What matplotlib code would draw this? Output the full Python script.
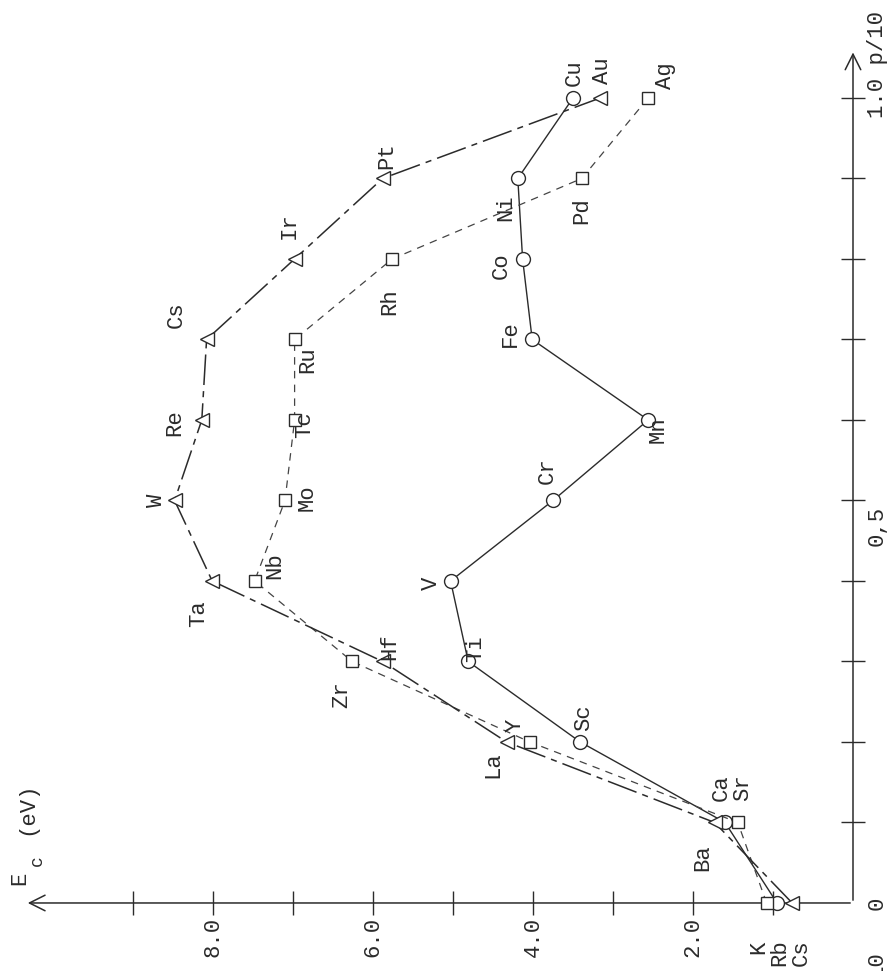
import numpy as np
import matplotlib.pyplot as plt

# p/10 position of each element in its row (K..Cu, Rb..Ag, Cs..Au)
p_frac = [0.0, 0.1, 0.2, 0.3, 0.4, 0.5, 0.6, 0.7, 0.8, 0.9, 1.0]

# cohesive energy E_c (eV)
e_3d = [0.95, 1.60, 3.41, 4.81, 5.03, 3.75, 2.56, 4.01, 4.13, 4.19, 3.50]
e_4d = [1.08, 1.44, 4.04, 6.26, 7.48, 7.10, 6.98, 6.98, 5.76, 3.39, 2.56]
e_5d = [0.76, 1.73, 4.33, 5.88, 8.01, 8.48, 8.14, 8.08, 6.98, 5.88, 3.16]

names_3d = ["K", "Ca", "Sc", "Ti", "V", "Cr", "Mn", "Fe", "Co", "Ni", "Cu"]
names_4d = ["Rb", "Sr", "Y", "Zr", "Nb", "Mo", "Tc", "Ru", "Rh", "Pd", "Ag"]
names_5d = ["Cs", "Ba", "La", "Hf", "Ta", "W", "Re", "Cs", "Ir", "Pt", "Au"]  # Os is typed "Cs" in the original

e_ticks = [1, 2, 3, 4, 5, 6, 7, 8, 9]
e_ticklabels = {2: "2.0", 4: "4.0", 6: "6.0", 8: "8.0"}
p_ticks = [0.1, 0.2, 0.3, 0.4, 0.5, 0.6, 0.7, 0.8, 0.9, 1.0]

# label offsets from the marker, in pixels (x right, y up)
off_3d = [(-18, -44), (-4, 35), (3, 24), (7, 13), (-19, -2), (-6, 30), (10, -10),
          (-22, 6), (-21, -7), (-12, -29), (1, 25)]
off_4d = [(13, -50), (5, 35), (-15, 17), (-10, -33), (20, 15), (22, 3), (10, -5),
          (13, -20), (-2, -43), (0, -32), (17, 22)]
off_5d = [(9, -50), (-12, -35), (-14, -23), (7, 15), (-14, -33), (-18, 0), (-27, -3),
          (-30, 25), (-5, 33), (4, 23), (2, 27)]

ink = "#2b2b2b"
font = dict(family="Liberation Mono", fontsize=16, color=ink, rotation=90,
            ha="center", va="center")

fig = plt.figure(figsize=(8.93, 9.71), dpi=100)
ax = fig.add_axes([0, 0, 1, 1])
ax.set_xlim(10.6625, -0.5)   # E_c grows to the left (page is turned)
ax.set_ylim(-0.0845, 1.1217)
ax.axis("off")

# axes with open arrow heads
ax.annotate("", xy=(10.35, 0), xytext=(0, 0),
            arrowprops=dict(arrowstyle="->", color=ink, lw=1.1, mutation_scale=28))
ax.annotate("", xy=(0, 1.06), xytext=(0, 0),
            arrowprops=dict(arrowstyle="->", color=ink, lw=1.1, mutation_scale=28))
ax.plot(e_ticks, np.zeros(len(e_ticks)), "|", ms=17, mew=1.0, color=ink)
ax.plot(np.zeros(len(p_ticks)), p_ticks, "_", ms=17, mew=1.0, color=ink)

for e, lab in e_ticklabels.items():
    ax.annotate(lab, (e, 0), xytext=(0, -34), textcoords="offset pixels", **font)
ax.annotate("0", (0, 0), xytext=(24, 0), textcoords="offset pixels", **font)
ax.annotate("10", (0, 0), xytext=(24, -62), textcoords="offset pixels", **font)
ax.annotate("0,5", (0, 0.5), xytext=(24, -25), textcoords="offset pixels", **font)
f2 = dict(font, va="bottom")
ax.annotate("1.0 p/10", (0, 1.0), xytext=(24, -20), textcoords="offset pixels", **f2)

# E_c (eV) axis title near the arrow
ax.annotate("E", (10.35, 0), xytext=(-5, 25), textcoords="offset pixels", **font)
ax.annotate("c", (10.35, 0), xytext=(12, 42), textcoords="offset pixels",
            **dict(font, fontsize=13))
ax.annotate("(eV)", (10.35, 0), xytext=(2, 95), textcoords="offset pixels", **font)

# the three transition rows
ax.plot(e_3d, p_frac, "-", color=ink, lw=1.0, marker="o", ms=10,
        mfc="white", mec=ink, mew=1.0, zorder=3)
ax.plot(e_4d, p_frac, color="#444444", lw=0.9, ls=(0, (6, 5)), marker="s", ms=8.5,
        mfc="white", mec=ink, mew=1.0, zorder=3)
ax.plot(e_5d, p_frac, color=ink, lw=1.1, ls=(0, (20, 4, 4, 4)), marker="<", ms=10,
        mfc="white", mec=ink, mew=1.0, zorder=3)

for names, es, offs in [(names_3d, e_3d, off_3d), (names_4d, e_4d, off_4d),
                        (names_5d, e_5d, off_5d)]:
    for n, e, p, o in zip(names, es, p_frac, offs):
        ax.annotate(n, (e, p), xytext=o, textcoords="offset pixels", **font)

fig.savefig("out.png", dpi=100, facecolor="white")
